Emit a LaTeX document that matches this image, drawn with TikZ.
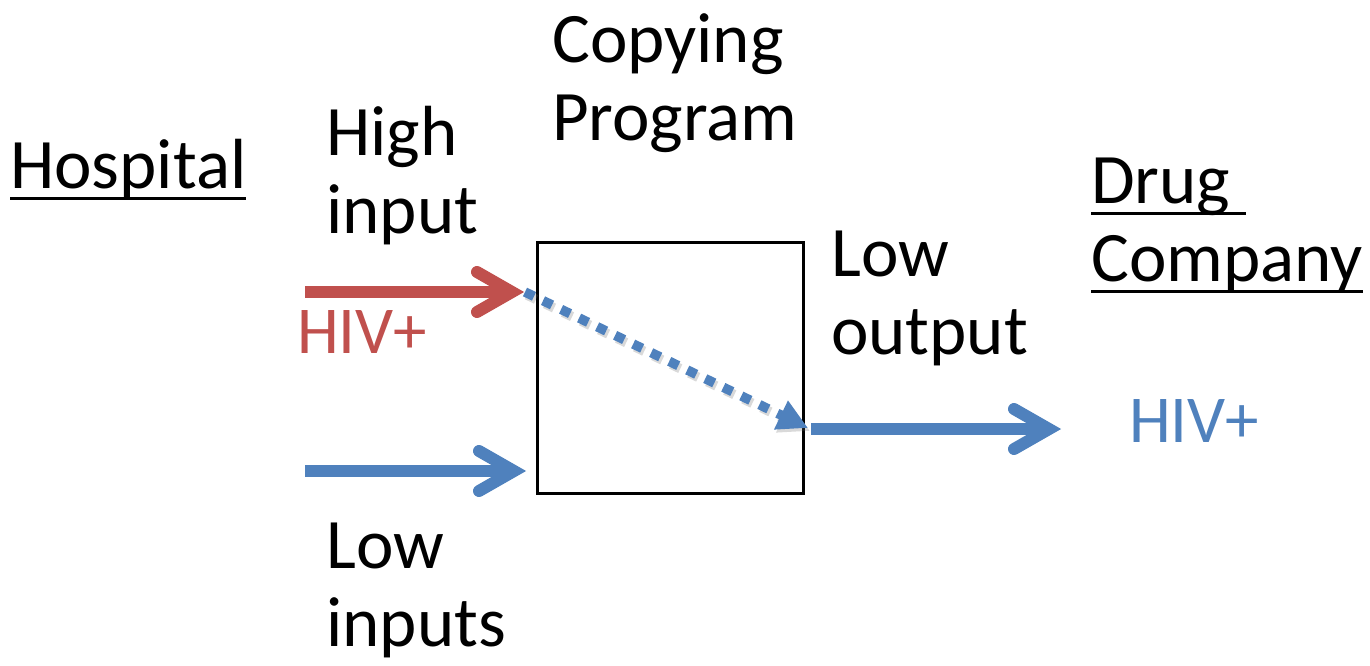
\documentclass[tikz,border=0pt]{standalone}
\usepackage{fontspec}
\setmainfont{Carlito}
\usetikzlibrary{arrows.meta}
\definecolor{hivred}{HTML}{C0504D}
\definecolor{hivblue}{HTML}{4F81BD}
% underline drawn as a rule under the whole word box (trailing space included)
\newcommand\ulword[1]{\setbox0\hbox{#1}\rlap{\rule[-12pt]{\wd0}{3pt}}\box0}
% two stacked lines whose baseline is that of the first line
\newcommand\twolines[2]{\vtop{\baselineskip=78pt\hbox{#1}\hbox{#2}}}
\begin{document}
\begin{tikzpicture}[x=1pt,y=-1pt,
  lbl/.style={anchor=base west,inner sep=0pt,font=\fontsize{71}{78}\selectfont},
  tag/.style={anchor=base west,inner sep=0pt,font=\fontsize{67}{74}\selectfont},
  shaft/.style={line width=12pt,line cap=butt},
  chev/.style={line width=12pt,line cap=round,line join=miter},
  leak/.style={line width=9.5pt,line cap=butt,dash pattern=on 10pt off 10pt,
    -{Triangle[length=30pt,width=30pt]}}]
\useasboundingbox (0,0) rectangle (1370,665);

% the copying program
\node[draw,line width=2.5pt,inner sep=0pt,minimum width=266pt,minimum height=251pt]
  (prog) at (670.5,368) {};

% labels
\node[lbl] (hosp) at (10,188) {\ulword{Hospital}};
\node[lbl] (copy) at (552,62) {\twolines{Copying}{Program}};
\node[lbl] (high) at (326,155) {\twolines{High}{input}};
\node[lbl] (lowin) at (326,568) {\twolines{Low}{inputs}};
\node[lbl] (lowout) at (831,276) {\twolines{Low}{output}};
\node[lbl] (drug) at (1091,203) {\twolines{\ulword{Drug\ }}{\ulword{Company}}};
\node[tag,text=hivred] (hivin) at (297,353) {HIV+};
\node[tag,text=hivblue] (hivout) at (1129,442) {HIV+};

% arrow end points
\coordinate (hiStart) at (305,292);
\coordinate (hiTip) at (512,292);
\coordinate (hiPoint) at (525,292);
\coordinate (loStart) at (305,471);
\coordinate (loTip) at (514,471);
\coordinate (outStart) at (811,429);
\coordinate (outTip) at (1049,429);
\coordinate (leakEnd) at (808,428);

% high input
\draw[shaft,hivred] (hiStart) -- (hiTip);
\draw[chev,hivred] ([shift={(-35,-20)}]hiTip) -- (hiTip) -- ([shift={(-35,20)}]hiTip);

% low inputs
\draw[shaft,hivblue] (loStart) -- (loTip);
\draw[chev,hivblue] ([shift={(-35,-20)}]loTip) -- (loTip) -- ([shift={(-35,20)}]loTip);

% leak from the high input to the low output
\draw[leak,black!60,opacity=0.25] ([shift={(2,3)}]hiPoint) -- ([shift={(2,3)}]leakEnd);
\draw[leak,hivblue] (hiPoint) -- (leakEnd);

% low output
\draw[shaft,hivblue] (outStart) -- (outTip);
\draw[chev,hivblue] ([shift={(-35,-20)}]outTip) -- (outTip) -- ([shift={(-35,20)}]outTip);
\end{tikzpicture}
\end{document}
